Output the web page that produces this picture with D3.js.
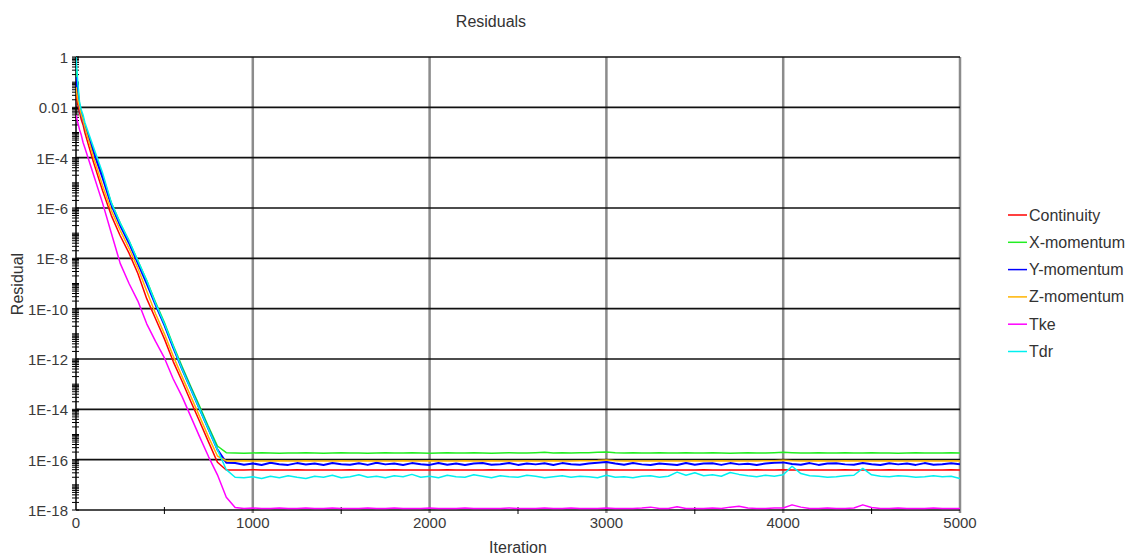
<!DOCTYPE html>
<html>
<head>
<meta charset="utf-8">
<script src="https://cdn.jsdelivr.net/npm/d3@7"></script>
<style>
  html, body { margin: 0; padding: 0; background: #fff; }
  svg { display: block; font-family: "Liberation Sans", Arial, sans-serif; }
</style>
</head>
<body>
<svg id="chart" width="1132" height="557"></svg>
<script>
// Solver iteration at which each residual sample was recorded
const iterations = [0,10,20,30,40,50,100,150,200,250,300,350,400,450,500,550,600,650,700,750,800,850,
  900,950,1000,1050,1100,1150,1200,1250,1300,1350,1400,1450,1500,1550,1600,1650,1700,1750,1800,1850,
  1900,1950,2000,2050,2100,2150,2200,2250,2300,2350,2400,2450,2500,2550,2600,2650,2700,2750,2800,2850,
  2900,2950,3000,3050,3100,3150,3200,3250,3300,3350,3400,3450,3500,3550,3600,3650,3700,3750,3800,3850,
  3900,3950,4000,4050,4100,4150,4200,4250,4300,4350,4400,4450,4500,4550,4600,4650,4700,4750,4800,4850,
  4900,4950,5000];

const continuity = [3.2e-2,1.3e-2,6.3e-3,3.2e-3,2.0e-3,1.0e-3,6.3e-5,5.0e-6,5.0e-7,7.9e-8,1.6e-8,2.5e-9,2.5e-10,4.0e-11,6.3e-12,7.9e-13,1.3e-13,2.0e-14,3.2e-15,5.0e-16,7.9e-17,3.9e-17,
  3.9e-17,3.9e-17,3.95e-17,3.9e-17,3.9e-17,3.9e-17,3.9e-17,3.95e-17,3.9e-17,3.9e-17,
  3.9e-17,3.9e-17,3.9e-17,3.95e-17,3.9e-17,3.9e-17,3.9e-17,3.9e-17,3.95e-17,3.9e-17,
  3.9e-17,3.9e-17,3.9e-17,3.9e-17,3.95e-17,3.9e-17,3.9e-17,3.9e-17,3.9e-17,3.95e-17,
  3.9e-17,3.9e-17,3.95e-17,3.9e-17,3.9e-17,3.9e-17,3.9e-17,3.95e-17,3.9e-17,3.9e-17,
  3.9e-17,3.9e-17,3.95e-17,3.9e-17,3.9e-17,3.9e-17,3.9e-17,3.9e-17,3.95e-17,3.9e-17,
  3.9e-17,3.9e-17,3.9e-17,3.95e-17,3.9e-17,3.9e-17,3.9e-17,3.9e-17,3.9e-17,3.95e-17,
  3.9e-17,3.9e-17,3.95e-17,3.9e-17,3.9e-17,3.9e-17,3.9e-17,3.9e-17,3.9e-17,3.95e-17,
  3.9e-17,3.9e-17,3.9e-17,3.9e-17,3.95e-17,3.9e-17,3.9e-17,3.9e-17,3.9e-17,3.9e-17,
  3.9e-17,3.95e-17,3.9e-17];

const xMomentum = [5.0e-1,6.3e-2,1.3e-2,6.3e-3,4.0e-3,2.0e-3,2.0e-4,2.0e-5,1.6e-6,2.5e-7,5.0e-8,7.9e-9,1.3e-9,1.8e-10,2.8e-11,3.5e-12,5.0e-13,7.9e-14,1.3e-14,2.0e-15,3.5e-16,1.9e-16,
  1.85e-16,1.8e-16,1.85e-16,1.9e-16,1.85e-16,1.8e-16,1.85e-16,1.85e-16,1.9e-16,1.85e-16,
  1.8e-16,1.85e-16,1.9e-16,1.85e-16,1.85e-16,1.8e-16,1.85e-16,1.9e-16,1.85e-16,1.85e-16,
  1.9e-16,1.85e-16,1.8e-16,1.85e-16,1.9e-16,1.85e-16,1.85e-16,1.9e-16,1.85e-16,1.8e-16,
  1.85e-16,1.9e-16,1.85e-16,1.85e-16,1.9e-16,1.95e-16,1.85e-16,1.9e-16,1.85e-16,1.9e-16,
  1.9e-16,1.95e-16,2.0e-16,1.9e-16,1.85e-16,1.9e-16,1.85e-16,1.85e-16,1.9e-16,1.85e-16,
  1.85e-16,1.9e-16,1.85e-16,1.85e-16,1.9e-16,1.85e-16,1.8e-16,1.85e-16,1.9e-16,1.85e-16,
  1.85e-16,1.9e-16,1.95e-16,1.9e-16,1.85e-16,1.85e-16,1.9e-16,1.85e-16,1.85e-16,1.9e-16,
  1.85e-16,1.85e-16,1.9e-16,1.85e-16,1.85e-16,1.8e-16,1.85e-16,1.9e-16,1.85e-16,1.85e-16,
  1.85e-16,1.9e-16,1.85e-16];

const yMomentum = [1.6e-1,3.2e-2,1.0e-2,5.0e-3,3.2e-3,1.6e-3,1.6e-4,1.6e-5,1.3e-6,2.0e-7,4.0e-8,6.3e-9,1.0e-9,1.4e-10,2.2e-11,2.8e-12,4.0e-13,6.3e-14,1.0e-14,1.6e-15,2.5e-16,7.6e-17,
  7.4e-17,6.3e-17,7.1e-17,6.1e-17,7.5e-17,6.6e-17,6.2e-17,7.3e-17,6.4e-17,7.0e-17,
  6.1e-17,7.4e-17,6.6e-17,6.3e-17,7.2e-17,6.2e-17,7.5e-17,6.5e-17,7.0e-17,6.1e-17,
  7.3e-17,6.6e-17,6.2e-17,7.4e-17,6.3e-17,7.1e-17,6.1e-17,7.0e-17,7.3e-17,6.3e-17,
  6.6e-17,7.4e-17,6.2e-17,7.0e-17,6.5e-17,7.2e-17,6.1e-17,7.3e-17,6.6e-17,6.3e-17,
  7.1e-17,7.6e-17,8.0e-17,7.0e-17,6.3e-17,7.3e-17,6.5e-17,6.2e-17,7.1e-17,6.6e-17,
  6.1e-17,7.4e-17,6.3e-17,7.0e-17,7.2e-17,6.2e-17,7.3e-17,6.5e-17,6.9e-17,6.1e-17,
  7.1e-17,7.5e-17,7.8e-17,6.7e-17,6.3e-17,7.3e-17,6.2e-17,7.0e-17,7.2e-17,6.5e-17,
  6.3e-17,7.4e-17,6.6e-17,6.1e-17,7.2e-17,6.5e-17,7.0e-17,6.2e-17,7.3e-17,6.3e-17,
  6.6e-17,7.2e-17,6.5e-17];

const zMomentum = [6.3e-2,2.0e-2,1.0e-2,5.0e-3,3.2e-3,1.6e-3,1.0e-4,7.9e-6,7.9e-7,1.3e-7,2.5e-8,4.0e-9,5.0e-10,6.3e-11,1.0e-11,1.3e-12,2.0e-13,3.2e-14,5.0e-15,7.9e-16,1.4e-16,8.9e-17,
  8.9e-17,9.0e-17,8.9e-17,8.8e-17,8.9e-17,9.0e-17,8.9e-17,8.9e-17,9.1e-17,8.9e-17,
  8.8e-17,8.9e-17,9.0e-17,8.9e-17,8.9e-17,9.0e-17,8.9e-17,8.8e-17,8.9e-17,9.0e-17,
  8.9e-17,8.9e-17,9.0e-17,8.9e-17,8.8e-17,8.9e-17,9.0e-17,8.9e-17,8.9e-17,9.0e-17,
  8.9e-17,8.8e-17,8.9e-17,9.0e-17,8.9e-17,8.9e-17,9.0e-17,8.9e-17,8.9e-17,9.1e-17,
  9.0e-17,9.2e-17,9.6e-17,9.1e-17,8.9e-17,9.0e-17,8.9e-17,8.9e-17,9.0e-17,8.9e-17,
  8.8e-17,8.9e-17,9.0e-17,8.9e-17,8.9e-17,9.0e-17,8.9e-17,8.9e-17,8.8e-17,8.9e-17,
  9.0e-17,9.1e-17,9.4e-17,9.0e-17,8.9e-17,8.9e-17,9.0e-17,8.9e-17,8.9e-17,9.0e-17,
  8.9e-17,9.1e-17,8.9e-17,8.9e-17,9.0e-17,8.9e-17,8.8e-17,8.9e-17,9.0e-17,8.9e-17,
  8.9e-17,9.0e-17,8.9e-17];

const tke = [5.0e-3,2.5e-3,1.3e-3,7.9e-4,4.0e-4,2.5e-4,2.0e-5,1.6e-6,1.0e-7,6.3e-9,1.0e-9,2.0e-10,2.5e-11,5.0e-12,1.1e-12,1.6e-13,3.2e-14,5.0e-15,7.9e-16,1.3e-16,2.5e-17,3.2e-18,
  1.25e-18,1.15e-18,1.2e-18,1.15e-18,1.15e-18,1.2e-18,1.15e-18,1.15e-18,1.2e-18,1.15e-18,
  1.15e-18,1.2e-18,1.15e-18,1.15e-18,1.15e-18,1.2e-18,1.15e-18,1.15e-18,1.2e-18,1.15e-18,
  1.15e-18,1.15e-18,1.2e-18,1.15e-18,1.15e-18,1.15e-18,1.2e-18,1.15e-18,1.15e-18,1.15e-18,
  1.15e-18,1.2e-18,1.15e-18,1.15e-18,1.15e-18,1.2e-18,1.15e-18,1.15e-18,1.2e-18,1.15e-18,
  1.15e-18,1.15e-18,1.2e-18,1.15e-18,1.15e-18,1.15e-18,1.2e-18,1.3e-18,1.15e-18,1.15e-18,
  1.35e-18,1.15e-18,1.15e-18,1.15e-18,1.2e-18,1.15e-18,1.3e-18,1.4e-18,1.2e-18,1.15e-18,
  1.15e-18,1.2e-18,1.2e-18,1.6e-18,1.3e-18,1.15e-18,1.15e-18,1.2e-18,1.15e-18,1.15e-18,
  1.2e-18,1.6e-18,1.25e-18,1.15e-18,1.15e-18,1.2e-18,1.15e-18,1.15e-18,1.15e-18,1.2e-18,
  1.15e-18,1.15e-18,1.15e-18];

const tdr = [1.0,1.0e-1,1.6e-2,7.9e-3,5.0e-3,2.5e-3,2.5e-4,2.5e-5,1.6e-6,2.5e-7,5.0e-8,7.9e-9,1.3e-9,1.6e-10,2.5e-11,3.2e-12,4.0e-13,6.3e-14,1.0e-14,1.6e-15,2.5e-16,4.0e-17,
  2.0e-17,1.9e-17,2.1e-17,1.8e-17,2.2e-17,1.9e-17,2.3e-17,2.0e-17,1.8e-17,2.2e-17,
  2.0e-17,2.4e-17,1.9e-17,2.1e-17,2.5e-17,2.0e-17,2.2e-17,1.9e-17,2.3e-17,2.1e-17,
  2.6e-17,2.0e-17,2.2e-17,1.9e-17,2.4e-17,2.1e-17,2.0e-17,2.5e-17,2.2e-17,1.9e-17,
  2.3e-17,2.1e-17,2.0e-17,2.4e-17,2.2e-17,1.9e-17,2.1e-17,2.3e-17,2.0e-17,2.2e-17,
  2.1e-17,1.9e-17,2.4e-17,2.0e-17,2.1e-17,1.9e-17,2.2e-17,2.3e-17,2.0e-17,2.2e-17,
  3.2e-17,2.4e-17,3.0e-17,2.3e-17,2.5e-17,2.2e-17,3.1e-17,2.6e-17,2.3e-17,2.1e-17,
  2.4e-17,2.2e-17,2.5e-17,5.5e-17,2.8e-17,2.3e-17,2.2e-17,2.0e-17,2.1e-17,2.3e-17,
  2.4e-17,4.5e-17,2.5e-17,2.2e-17,2.1e-17,2.3e-17,2.2e-17,2.0e-17,2.1e-17,2.3e-17,
  2.1e-17,2.2e-17,1.8e-17];

const seriesNames = ["Continuity", "X-momentum", "Y-momentum", "Z-momentum", "Tke", "Tdr"];
const seriesValues = [continuity, xMomentum, yMomentum, zMomentum, tke, tdr];
const seriesColors = ["#ff0000", "#22ee22", "#0000ff", "#ffb400", "#ff00ff", "#00f0f0"];

const xTicks = [0, 1000, 2000, 3000, 4000, 5000];
const xMinorTicks = [500, 1500, 2500, 3500, 4500];
const yTicks = [1, 1e-2, 1e-4, 1e-6, 1e-8, 1e-10, 1e-12, 1e-14, 1e-16, 1e-18];
const yTickLabels = ["1", "0.01", "1E-4", "1E-6", "1E-8", "1E-10", "1E-12", "1E-14", "1E-16", "1E-18"];

const plot = { left: 76, right: 960, top: 57, bottom: 510 };

const svg = d3.select("#chart");
const x = d3.scaleLinear().domain([0, 5000]).range([plot.left, plot.right]);
const y = d3.scaleLog().domain([1e-18, 1]).range([plot.bottom, plot.top]);

// Vertical grid (grey) at the major iteration ticks, including right border
svg.append("g").selectAll("line")
  .data(xTicks.filter(d => d > 0))
  .join("line")
  .attr("x1", d => x(d)).attr("x2", d => x(d))
  .attr("y1", plot.top).attr("y2", plot.bottom + 3)
  .attr("stroke", "#8c8c8c").attr("stroke-width", 2.5);

// Horizontal grid (black) every two decades
svg.append("g").selectAll("line")
  .data(yTicks)
  .join("line")
  .attr("x1", plot.left).attr("x2", plot.right)
  .attr("y1", d => y(d)).attr("y2", d => y(d))
  .attr("stroke", "#111").attr("stroke-width", 1.6);

// Left axis line
svg.append("line")
  .attr("x1", plot.left).attr("x2", plot.left)
  .attr("y1", plot.top).attr("y2", plot.bottom)
  .attr("stroke", "#111").attr("stroke-width", 1.6);

// Logarithmic minor ticks on the residual axis
const yMinor = [];
for (let e = -18; e < 0; e++) {
  for (let k = 1; k <= 9; k++) yMinor.push(k * Math.pow(10, e));
}
yMinor.push(1);
svg.append("g").selectAll("line")
  .data(yMinor)
  .join("line")
  .attr("x1", plot.left - 4).attr("x2", plot.left + 3)
  .attr("y1", d => y(d)).attr("y2", d => y(d))
  .attr("stroke", "#000").attr("stroke-width", 1);

// Minor ticks on the iteration axis
svg.append("g").selectAll("line")
  .data(xMinorTicks)
  .join("line")
  .attr("x1", d => x(d)).attr("x2", d => x(d))
  .attr("y1", plot.bottom - 3).attr("y2", plot.bottom + 4)
  .attr("stroke", "#000").attr("stroke-width", 1);

// Tick labels
svg.append("g").selectAll("text")
  .data(yTicks)
  .join("text")
  .attr("x", 68).attr("y", d => y(d) + 6)
  .attr("text-anchor", "end")
  .attr("font-size", 15).attr("fill", "#3a3a3a")
  .text((d, i) => yTickLabels[i]);

svg.append("g").selectAll("text")
  .data(xTicks)
  .join("text")
  .attr("x", d => x(d)).attr("y", 528)
  .attr("text-anchor", "middle")
  .attr("font-size", 15).attr("fill", "#3a3a3a")
  .text(d => d);

// Residual curves
svg.append("clipPath").attr("id", "plotClip")
  .append("rect")
  .attr("x", plot.left).attr("y", plot.top - 2)
  .attr("width", plot.right - plot.left).attr("height", plot.bottom - plot.top + 3);

const line = d3.line()
  .x((d, i) => x(iterations[i]))
  .y(d => y(d));

svg.append("g").attr("clip-path", "url(#plotClip)")
  .selectAll("path")
  .data(seriesValues)
  .join("path")
  .attr("d", d => line(d))
  .attr("fill", "none")
  .attr("stroke", (d, i) => seriesColors[i])
  .attr("stroke-width", (d, i) => i === 2 ? 2 : 1.5)
  .attr("stroke-linejoin", "round");

// Titles
svg.append("text")
  .attr("x", 491).attr("y", 27)
  .attr("text-anchor", "middle")
  .attr("font-size", 16).attr("fill", "#333")
  .text("Residuals");

svg.append("text")
  .attr("x", 518).attr("y", 553)
  .attr("text-anchor", "middle")
  .attr("font-size", 16).attr("fill", "#333")
  .text("Iteration");

svg.append("text")
  .attr("transform", "translate(23,284) rotate(-90)")
  .attr("text-anchor", "middle")
  .attr("font-size", 16).attr("fill", "#333")
  .text("Residual");

// Legend
const legend = svg.append("g").selectAll("g")
  .data(seriesNames)
  .join("g")
  .attr("transform", (d, i) => `translate(1008,${215 + i * 27.3})`);

legend.append("line")
  .attr("x1", 0).attr("x2", 19)
  .attr("y1", 0).attr("y2", 0)
  .attr("stroke", (d, i) => seriesColors[i])
  .attr("stroke-width", 1.5);

legend.append("text")
  .attr("x", 21).attr("y", 5.5)
  .attr("font-size", 16).attr("fill", "#333")
  .text(d => d);
</script>
</body>
</html>
